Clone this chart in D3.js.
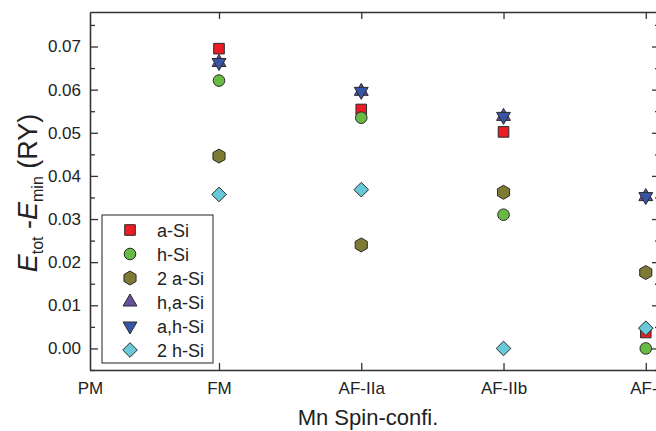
<!DOCTYPE html>
<html>
<head>
<meta charset="utf-8">
<script src="https://cdn.jsdelivr.net/npm/d3@7"></script>
<style>
  body { margin: 0; background: #fff; }
  svg { display: block; }
  text { font-family: "Liberation Sans", Arial, Helvetica, sans-serif; fill: #222; }
</style>
</head>
<body>
<svg id="chart" width="656" height="431"></svg>
<script>
// Spin configurations along the x axis (PM carries no points)
const categories = ["PM", "FM", "AF-IIa", "AF-IIb", "AF-I"];
const seriesNames = ["a-Si", "h-Si", "2 a-Si", "h,a-Si", "a,h-Si", "2 h-Si"];

// E_tot - E_min (Ry) for each configuration, in category order
const aSi  = [null, 0.0695, 0.0554, 0.0502, 0.0037];
const hSi  = [null, 0.0621, 0.0535, 0.0310, 0.0000];
const a2Si = [null, 0.0446, 0.0240, 0.0362, 0.0176];
const haSi = [null, 0.0663, 0.0596, 0.0538, 0.0352];
const ahSi = [null, 0.0663, 0.0596, 0.0538, 0.0352];
const h2Si = [null, 0.0357, 0.0368, 0.0000, 0.0047];

const yTicks = [0.00, 0.01, 0.02, 0.03, 0.04, 0.05, 0.06, 0.07];

const seriesValues = [aSi, hSi, a2Si, haSi, ahSi, h2Si];
const seriesColors = ["#ec1c24", "#67bb45", "#7d7a33", "#6a4f9f", "#3656a5", "#6ac9d9"];
const seriesShapes = ["square", "circle", "hexagon", "triUp", "triDown", "diamond"];

const svg = d3.select("#chart");
const L = 90, R = 660, T = 12, B = 370;

const x = d3.scaleLinear().domain([0, 1, 4.1]).range([L, 219, R]);
const y = d3.scaleLinear().domain([-0.005, 0.078]).range([B, T]);

// marker path builders (centred at origin)
function shapePath(kind) {
  const p = d3.path();
  if (kind === "square") {
    const s = 5.3; p.rect(-s, -s, 2 * s, 2 * s);
  } else if (kind === "circle") {
    p.arc(0, 0, 5.8, 0, 2 * Math.PI); p.closePath();
  } else if (kind === "hexagon") {
    const r = 7;
    for (let i = 0; i < 6; i++) {
      const a = -Math.PI / 2 + i * Math.PI / 3;
      if (i === 0) p.moveTo(r * Math.cos(a), r * Math.sin(a));
      else p.lineTo(r * Math.cos(a), r * Math.sin(a));
    }
    p.closePath();
  } else if (kind === "triUp" || kind === "triDown") {
    const h = 4.0, sgn = kind === "triUp" ? 1 : -1;
    p.moveTo(0, -2 * h * sgn);
    p.lineTo(Math.sqrt(3) * h, h * sgn);
    p.lineTo(-Math.sqrt(3) * h, h * sgn);
    p.closePath();
  } else if (kind === "diamond") {
    const r = 7.3;
    p.moveTo(0, -r); p.lineTo(r, 0); p.lineTo(0, r); p.lineTo(-r, 0); p.closePath();
  }
  return p.toString();
}

// data points
const pts = svg.append("g");
seriesValues.forEach((vals, si) => {
  pts.selectAll(null)
    .data(vals.map((v, i) => ({ i, v })).filter(d => d.v !== null))
    .join("path")
    .attr("d", shapePath(seriesShapes[si]))
    .attr("transform", d => `translate(${x(d.i)},${y(d.v)})`)
    .attr("fill", seriesColors[si])
    .attr("stroke", "#2a2a2a")
    .attr("stroke-width", 1);
});

// axes: all ticks point inward
const axisColor = "#333";
const yMinor = d3.range(-0.005, 0.0781, 0.005).map(v => +v.toFixed(3)).filter(v => yTicks.indexOf(v) < 0);

const gLeft = svg.append("g").attr("transform", `translate(${L},0)`)
  .call(d3.axisLeft(y).tickValues(yTicks).tickFormat(d3.format(".2f")).tickSizeInner(-8).tickSizeOuter(0).tickPadding(9));
gLeft.selectAll("text").style("font-size", "17px");
svg.append("g").attr("transform", `translate(${L},0)`)
  .call(d3.axisLeft(y).tickValues(yMinor).tickFormat("").tickSizeInner(-5).tickSizeOuter(0));

svg.append("g").attr("transform", `translate(${R},0)`)
  .call(d3.axisRight(y).tickValues(yTicks).tickFormat("").tickSizeInner(-8).tickSizeOuter(0));
svg.append("g").attr("transform", `translate(${R},0)`)
  .call(d3.axisRight(y).tickValues(yMinor).tickFormat("").tickSizeInner(-5).tickSizeOuter(0));

const gBottom = svg.append("g").attr("transform", `translate(0,${B})`)
  .call(d3.axisBottom(x).tickValues(d3.range(categories.length)).tickFormat(i => categories[i])
    .tickSizeInner(-7).tickSizeOuter(0).tickPadding(12));
gBottom.selectAll("text").style("font-size", "17px");
gBottom.selectAll(".tick").filter(i => i === 0).select("line").remove();

svg.append("g").attr("transform", `translate(0,${T})`)
  .call(d3.axisTop(x).tickValues(d3.range(1, categories.length)).tickFormat("").tickSizeInner(-7).tickSizeOuter(0));

svg.selectAll(".domain").attr("stroke", axisColor).attr("stroke-width", 1.3);
svg.selectAll(".tick line").attr("stroke", axisColor).attr("stroke-width", 1.3);

// axis titles
svg.append("text")
  .attr("x", 368).attr("y", 425)
  .attr("text-anchor", "middle")
  .style("font-size", "22px")
  .text("Mn Spin-confi.");

const yt = svg.append("text")
  .attr("transform", "translate(37,193) rotate(-90)")
  .attr("text-anchor", "middle")
  .style("font-size", "27px");
yt.append("tspan").style("font-style", "italic").text("E");
yt.append("tspan").attr("dy", 6).style("font-size", "16px").text("tot");
yt.append("tspan").attr("dy", -6).text(" -");
yt.append("tspan").style("font-style", "italic").text("E");
yt.append("tspan").attr("dy", 6).style("font-size", "16px").text("min");
yt.append("tspan").attr("dy", -6).text(" (RY)");

// legend
const lg = svg.append("g");
lg.append("rect").attr("x", 102).attr("y", 215).attr("width", 111).attr("height", 148)
  .attr("fill", "#fff").attr("stroke", "#222").attr("stroke-width", 1);
seriesNames.forEach((name, si) => {
  const cy = 230 + si * 24;
  lg.append("path").attr("d", shapePath(seriesShapes[si]))
    .attr("transform", `translate(130,${cy})`)
    .attr("fill", seriesColors[si]).attr("stroke", "#2a2a2a").attr("stroke-width", 1);
  lg.append("text").attr("x", 157).attr("y", cy + 6.5).style("font-size", "18px").text(name);
});
</script>
</body>
</html>
